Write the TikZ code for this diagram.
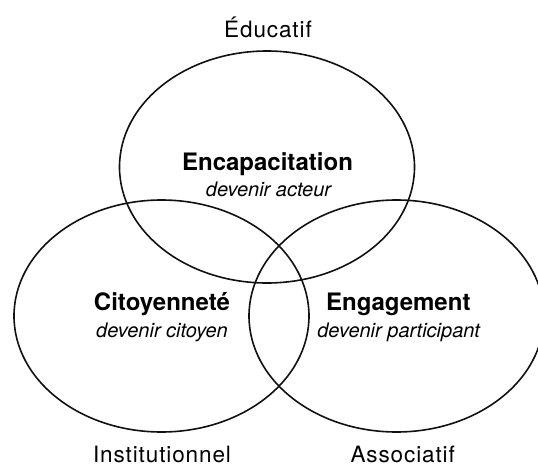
\documentclass[tikz,border=0pt]{standalone}
\usepackage{fontspec}
\setmainfont{TeX Gyre Heros}
\usetikzlibrary{shapes.geometric}
\definecolor{cTrait}{HTML}{111111}

\begin{document}
\begin{tikzpicture}[
    x=1pt, y=-1pt,
    sphere/.style={ellipse, draw=cTrait, line width=1.6pt, inner sep=0pt,
                   minimum width=295pt, minimum height=232pt},
    titre/.style={font=\fontsize{24}{28}\selectfont\bfseries, anchor=base,
                  inner sep=0pt},
    sous/.style={font=\fontsize{20}{24}\selectfont\itshape, anchor=base,
                 inner sep=0pt},
    pole/.style={font=\fontsize{22.5}{27}\selectfont\addfontfeature{LetterSpace=4},
                 anchor=base, inner sep=0pt},
]
\useasboundingbox (0,0) rectangle (538,466);

% ===========================================================================
% Les trois sphères
% ===========================================================================
\node[sphere] (educ) at (267,167) {};
\node[sphere] (inst) at (161.5,316) {};
\node[sphere] (asso) at (396.5,316) {};

% ----- Pôles (hors des ellipses) -----
\node[pole] (pEduc) at (268,37.3) {Éducatif};
\node[pole] (pInst) at (162,462) {Institutionnel};
\node[pole] (pAsso) at (402.7,462) {Associatif};

% ----- Contenu de chaque sphère -----
\node[titre] (encap) at (267.5,170) {Encapacitation};
\node[sous] (acteur) at (268.5,196) {devenir acteur};

\node[titre] (citoy) at (162,310.5) {Citoyenneté};
\node[sous] (citoyen) at (162,337.3) {devenir citoyen};

\node[titre] (engag) at (398.3,310.5) {Engagement};
\node[sous] (particip) at (398.7,337.3) {devenir participant};

\end{tikzpicture}
\end{document}
